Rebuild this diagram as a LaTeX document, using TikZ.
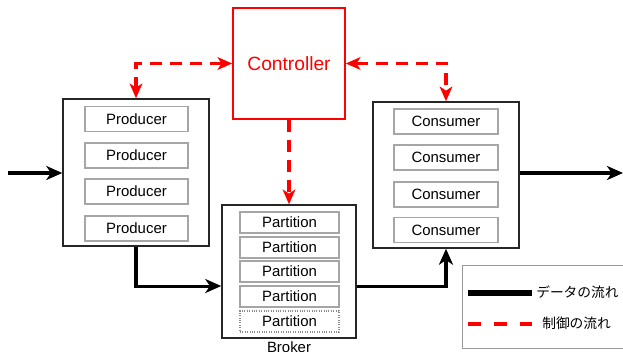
\documentclass[tikz,border=0pt]{standalone}
\usepackage{fontspec}
\setmainfont{Liberation Sans}
\newfontfamily\jpfont{Noto Sans CJK JP}
\usetikzlibrary{arrows.meta,calc}
\begin{document}
\begin{tikzpicture}[x=0.75pt,y=-0.75pt,
  group/.style={draw=black!85,line width=1.1pt,fill=white,minimum width=#1,inner sep=0pt},
  item/.style={draw=black!35,line width=0.8pt,fill=white,minimum height=#1,inner sep=0pt,font=\fontsize{11.2}{13}\selectfont},
  ctrlbox/.style={draw=red,line width=1.2pt,text=red,inner sep=0pt,font=\fontsize{14.4}{16}\selectfont},
  data/.style={line width=2.3pt,-{Stealth[length=12pt,width=10.5pt,inset=3.5pt]}},
  control/.style={draw=red,line width=2.3pt,dash pattern=on 9pt off 6pt,
    {Stealth[length=11pt,width=9.5pt,inset=3pt]}-{Stealth[length=11pt,width=9.5pt,inset=3pt]}},
  controlone/.style={draw=red,line width=2.3pt,dash pattern=on 9pt off 6pt,
    -{Stealth[length=11pt,width=9.5pt,inset=3pt]}},
]
\useasboundingbox (0,0) rectangle (623,352);

% Controller
\node[ctrlbox,minimum width=84pt,minimum height=83.25pt] (ctrl) at (289,63.5) {Controller};

% Producer group
\node[group=109.5pt,minimum height=110.25pt] (prod) at (136,172.5) {};
\foreach \y/\n in {119/p1,155.5/p2,191.5/p3,228.5/p4}
  \node[item=18.75pt,minimum width=77.25pt] (\n) at (136.5,\y) {Producer};

% Broker group
\node[group=100.5pt,minimum height=99.75pt] (broker) at (289,271.5) {};
\foreach \y/\n in {222.5/b1,247.5/b2,271.5/b3,296.5/b4}
  \node[item=15.75pt,minimum width=74.25pt] (\n) at (289.5,\y) {Partition};
\node[item=15.75pt,minimum width=74.25pt,densely dotted,draw=black!45] (b5) at (289.5,321.5) {Partition};
\node[font=\fontsize{11.2}{13}\selectfont,anchor=north,inner sep=0pt] (blabel) at (289,341.5) {Broker};

% Consumer group
\node[group=109.5pt,minimum height=109.5pt] (cons) at (446,175) {};
\foreach \y/\n in {121.5/c1,157.5/c2,194.5/c3,230/c4}
  \node[item=18.75pt,minimum width=78pt] (\n) at (446,\y) {Consumer};

% Free ends of the data flow
\coordinate (src) at (8,173);
\coordinate (dst) at (623,173);

% Data flow
\draw[data] (src) -- (prod.west |- src);
\draw[data] (prod.south) |- ([yshift=-10.9pt]broker.west);
\draw[data] ([yshift=-10.9pt]broker.east) -| (cons.south);
\draw[data] (cons.east |- dst) -- (dst);

% Control flow
\draw[control] (ctrl.west) -| (prod.north);
\draw[control] (ctrl.east) -| (cons.north);
\draw[controlone] (ctrl.south) -- (broker.north);

% Legend (runs on past the right edge)
\node[draw=black!40,line width=0.8pt,minimum width=220pt,minimum height=62.25pt,anchor=north west,inner sep=0pt] (legend) at (462,265) {};
\coordinate (l1a) at (468,293);
\coordinate (l1b) at (532,293);
\coordinate (l2a) at (468,324);
\coordinate (l2b) at (532,324);
\draw[line width=3.8pt] (l1a) -- (l1b);
\draw[red,line width=3pt,dash pattern=on 10pt off 9.5pt] (l2a) -- (l2b);
\node[anchor=west,inner sep=0pt,font=\jpfont\fontsize{10.3}{12}\selectfont] (t1) at (536,292) {データの流れ};
\node[anchor=west,inner sep=0pt,font=\jpfont\fontsize{10.3}{12}\selectfont] (t2) at (542,323) {制御の流れ};
\end{tikzpicture}
\end{document}
